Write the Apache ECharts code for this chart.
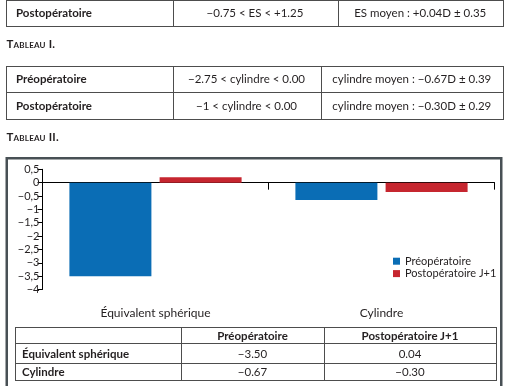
<!DOCTYPE html>
<html><head><meta charset="utf-8">
<script src="https://cdn.jsdelivr.net/npm/echarts@6/dist/echarts.min.js"></script>
<style>
html,body{margin:0;padding:0;background:#fff;width:511px;height:386px;overflow:hidden;font-family:Lato,"Open Sans",sans-serif;color:#231f20}
#chart{position:absolute;left:0;top:0;width:511px;height:386px}
#overlay{position:absolute;left:0;top:0;width:511px;height:386px}
.hl{position:absolute;height:1px;background:#4d4d4d}
.vl{position:absolute;width:1px;background:#4d4d4d}
.t{position:absolute;white-space:nowrap;font-size:11.5px;line-height:14px;color:#231f20}
.b{font-weight:bold}
.cap{position:absolute;white-space:nowrap;font-weight:bold;font-variant:small-caps;font-size:11.5px;line-height:12px;letter-spacing:0.2px;color:#231f20}
</style></head><body>
<div id="chart"></div>
<div id="overlay"></div>
<script>
// ---- data ----
const categories = ['Équivalent sphérique', 'Cylindre'];
const seriesNames = ['Préopératoire', 'Postopératoire J+1'];
const preValues = [-3.5, -0.65];
const postValues = [0.2, -0.35];
const yMin = -4, yMax = 0.5, yStep = 0.5;

const table1Rows = [['Postopératoire', '−0.75 < ES < +1.25', 'ES moyen : +0.04D ± 0.35']];
const table1Caption = 'Tableau I.';
const table2Rows = [
  ['Préopératoire', '−2.75 < cylindre < 0.00', 'cylindre moyen : −0.67D ± 0.39'],
  ['Postopératoire', '−1 < cylindre < 0.00', 'cylindre moyen : −0.30D ± 0.29']
];
const table2Caption = 'Tableau II.';
const dataTableHeader = ['', 'Préopératoire', 'Postopératoire J+1'];
const dataTableRows = [
  ['Équivalent sphérique', '−3.50', '0.04'],
  ['Cylindre', '−0.67', '−0.30']
];

// ---- HTML tables ----
const ov = document.getElementById('overlay');
function el(cls, css, txt) {
  const d = document.createElement('div');
  d.className = cls;
  Object.assign(d.style, css);
  if (txt !== undefined) d.textContent = txt;
  ov.appendChild(d);
  return d;
}
function drawTable(cols, rows, cells, opt) {
  const x0 = cols[0], x1 = cols[cols.length - 1];
  const y0 = rows[0], y1 = rows[rows.length - 1];
  rows.forEach(y => el('hl', {left: x0 + 'px', top: y + 'px', width: (x1 - x0 + 1) + 'px'}));
  cols.forEach(x => el('vl', {left: x + 'px', top: y0 + 'px', height: (y1 - y0 + 1) + 'px'}));
  cells.forEach((row, r) => {
    const cy = (rows[r] + rows[r + 1]) / 2 + 0.5;
    row.forEach((txt, c) => {
      if (!txt) return;
      const bold = (c === 0) || (opt.boldHeader && r === 0);
      const cls = 't' + (bold ? ' b' : '');
      if (c === 0) {
        el(cls, {left: (cols[0] + opt.pad) + 'px', top: cy + 'px', transform: 'translate(0,-50%)'}, txt);
      } else {
        const cx = (cols[c] + cols[c + 1]) / 2;
        el(cls, {left: cx + 'px', top: cy + 'px', transform: 'translate(-50%,-50%)'}, txt);
      }
    });
  });
}
drawTable([6, 172.5, 337.5, 503], [0, 25.5], table1Rows, {pad: 10});
el('cap', {left: '6.5px', top: '37.5px'}, table1Caption);
drawTable([6, 172.5, 320.5, 503], [65.5, 92, 118.5], table2Rows, {pad: 10});
el('cap', {left: '6.5px', top: '130.5px'}, table2Caption);
drawTable([15, 181, 324, 496], [327, 343, 363, 379.5], [dataTableHeader].concat(dataTableRows), {pad: 7, boldHeader: true});

// ---- chart ----
const chart = echarts.init(document.getElementById('chart'), null, {renderer: 'canvas'});
const fmt = v => {
  let s = String(Math.round(v * 10) / 10).replace('.', ',');
  return s.replace('-', '−');
};
const option = {
  animation: false,
  backgroundColor: 'transparent',
  textStyle: {fontFamily: 'Lato'},
  grid: {left: 42.5, right: 16.5, top: 169.3, bottom: 96.5},
  legend: {
    orient: 'vertical', left: 388, top: 250, itemWidth: 7, itemHeight: 7, itemGap: 0,
    icon: 'rect', data: seriesNames,
    textStyle: {fontFamily: 'Lato', fontSize: 11, color: '#231f20', lineHeight: 12.4}
  },
  xAxis: [
    {
      type: 'category', data: categories,
      axisLine: {onZero: true, lineStyle: {color: '#000', width: 1}},
      axisTick: {show: true, length: 7, lineStyle: {color: '#000'}},
      axisLabel: {show: false}, splitLine: {show: false}
    },
    {
      type: 'category', data: categories, position: 'bottom',
      axisLine: {show: false, onZero: false}, axisTick: {show: false},
      axisLabel: {margin: 18, fontFamily: 'Lato', fontSize: 12, color: '#231f20'}
    }
  ],
  yAxis: {
    type: 'value', min: yMin, max: yMax, interval: yStep,
    axisLine: {show: true, lineStyle: {color: '#000', width: 1}},
    axisTick: {show: true, length: 5, lineStyle: {color: '#000'}},
    axisLabel: {formatter: fmt, fontSize: 11, margin: 3, color: '#231f20', fontFamily: 'Lato'},
    splitLine: {show: false}
  },
  series: [
    {name: seriesNames[0], type: 'bar', data: preValues, barWidth: 82, barGap: '10%', itemStyle: {color: '#0a6db5'}},
    {name: seriesNames[1], type: 'bar', data: postValues, barWidth: 82, barGap: '10%', itemStyle: {color: '#c6262f'}}
  ],
  graphic: [{
    type: 'rect', silent: true, z: 100,
    shape: {x: 6.75, y: 158.25, width: 494.5, height: 250},
    style: {fill: 'none', stroke: '#485055', lineWidth: 2.5}
  }]
};
chart.setOption(option);
</script>
</body></html>
